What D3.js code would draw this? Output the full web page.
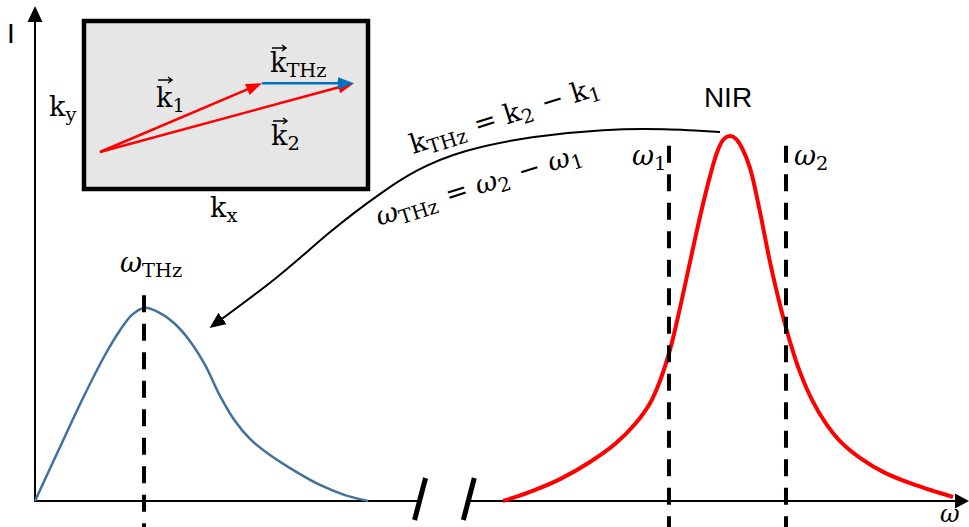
<!DOCTYPE html>
<html>
<head>
<meta charset="utf-8">
<script src="https://cdn.jsdelivr.net/npm/d3@7"></script>
<style>
  body { margin: 0; background: #fff; }
  svg { display: block; }
</style>
</head>
<body>
<svg id="chart" width="969" height="527"></svg>
<script>
// THz emission spectrum: frequency (arb. units) and normalized intensity
const thzOmega = [0, 2.72, 5.43, 7.61, 9.24, 10.54, 11.85, 13.59, 15.22, 16.85, 18.48, 20.11, 21.74, 23.37, 25.54, 28.26, 30.98, 33.7, 36.2];
const thzI     = [0, 0.148, 0.293, 0.400, 0.468, 0.510, 0.529, 0.515, 0.485, 0.438, 0.373, 0.288, 0.219, 0.170, 0.126, 0.082, 0.044, 0.016, 0.0];

// NIR pump spectrum
const nirOmega = [50.87, 53.8, 57.07, 60.33, 63.04, 65.22, 66.85, 67.93, 69.02, 70.11, 71.2, 72.28, 73.37, 74.24, 74.89, 75.54,
                  76.2, 76.85, 77.72, 78.8, 79.89, 80.98, 82.07, 83.15, 84.46, 85.87, 87.5, 89.67, 92.39, 95.65, 99.78];
const nirI     = [0, 0.025, 0.060, 0.107, 0.156, 0.211, 0.268, 0.329, 0.414, 0.529, 0.655, 0.778, 0.890, 0.962, 0.992, 1.0,
                  0.992, 0.967, 0.912, 0.792, 0.655, 0.537, 0.436, 0.353, 0.277, 0.216, 0.164, 0.118, 0.077, 0.044, 0.011];

// Marked frequencies
const markNames = ["THz", "1", "2"];
const markOmega = [11.85, 68.91, 81.63];
const markTop   = [0.564, 0.973, 0.973];

// Frequency-axis break
const breakOmega = [41.8, 47.1];

// Difference-frequency arrow (from the NIR peak down to the THz band)
const arcOmega = [74.46, 61.74, 46.85, 37.83, 31.85, 26.2, 19.24];
const arcI     = [1.011, 1.016, 0.959, 0.847, 0.732, 0.611, 0.479];

// Wave vectors in the inset (kx, ky)
const k1 = [0.638, 0.27];
const k2 = [1.0, 0.27];

const W = 969, H = 527;
const svg = d3.select("#chart");

const x = d3.scaleLinear().domain([0, 100]).range([35, 955]);
const y = d3.scaleLinear().domain([0, 1]).range([501, 136]);

const SERIF = "'DejaVu Serif', 'Liberation Serif', serif";
const SANS = "'Liberation Sans', Arial, sans-serif";
const FS = 27;

// Arrowhead for the curved arrow
const defs = svg.append("defs");
defs.append("marker")
  .attr("id", "headBlack")
  .attr("markerUnits", "userSpaceOnUse")
  .attr("viewBox", "0 0 16 14")
  .attr("markerWidth", 16).attr("markerHeight", 14)
  .attr("refX", 13).attr("refY", 7)
  .attr("orient", "auto")
  .append("path").attr("d", "M0,0 L16,7 L0,14 Z").attr("fill", "#000");

// ---- axes ----
const axes = svg.append("g").attr("stroke", "#000").attr("stroke-width", 2).attr("fill", "none");
axes.append("line").attr("x1", x(0)).attr("x2", x(0)).attr("y1", y(0) + 1).attr("y2", 20);
axes.append("line").attr("x1", x(0)).attr("x2", x(breakOmega[0])).attr("y1", y(0)).attr("y2", y(0));
axes.append("line").attr("x1", x(breakOmega[1])).attr("x2", x(100)).attr("y1", y(0)).attr("y2", y(0));
svg.append("path").attr("fill", "#000")
  .attr("d", `M${x(0)},6 L${x(0) + 7.5},22 L${x(0) - 7.5},22 Z`);
svg.append("path").attr("fill", "#000")
  .attr("d", `M${x(100) + 14},${y(0)} L${x(100)},${y(0) - 7.5} L${x(100)},${y(0) + 7.5} Z`);

// axis break marks
svg.append("g").selectAll("line").data(breakOmega).join("line")
  .attr("x1", d => x(d) - 5).attr("y1", y(0) + 19)
  .attr("x2", d => x(d) + 6).attr("y2", y(0) - 23)
  .attr("stroke", "#000").attr("stroke-width", 5);

// ---- spectra ----
const line = d3.line().x(d => x(d[0])).y(d => y(d[1])).curve(d3.curveCatmullRom.alpha(0.5));

svg.append("path")
  .datum(d3.zip(thzOmega, thzI))
  .attr("d", line)
  .attr("fill", "none").attr("stroke", "#41719c").attr("stroke-width", 2.5);

svg.append("path")
  .datum(d3.zip(nirOmega, nirI))
  .attr("d", line)
  .attr("fill", "none").attr("stroke", "#ff0000").attr("stroke-width", 4);

// dashed frequency markers
svg.append("g").selectAll("line").data(d3.zip(markOmega, markTop)).join("line")
  .attr("x1", d => x(d[0])).attr("x2", d => x(d[0]))
  .attr("y1", d => y(d[1])).attr("y2", H)
  .attr("stroke", "#000").attr("stroke-width", 4)
  .attr("stroke-dasharray", "17,11.5");

// curved arrow
const arcLine = d3.line().x(d => x(d[0])).y(d => y(d[1])).curve(d3.curveNatural);
svg.append("path")
  .datum(d3.zip(arcOmega, arcI))
  .attr("d", arcLine)
  .attr("fill", "none").attr("stroke", "#000").attr("stroke-width", 2)
  .attr("marker-end", "url(#headBlack)");

// ---- text helpers ----
function mathText(parent, px, py, parts, size, anchor) {
  const t = parent.append("text")
    .attr("x", px).attr("y", py)
    .attr("font-family", SERIF).attr("font-size", size)
    .attr("fill", "#000")
    .attr("text-anchor", anchor || "start");
  let shift = 0;
  const sh = Math.round(size * 0.2);
  parts.forEach(p => {
    const s = t.append("tspan").text(p.t);
    if (p.it) s.attr("font-style", "italic");
    if (p.dx) s.attr("dx", p.dx);
    if (p.sub) {
      s.attr("font-size", size * 0.72).attr("dy", sh - shift);
      shift = sh;
    } else if (shift) {
      s.attr("dy", -shift);
      shift = 0;
    }
  });
  return t;
}
function vecArrow(parent, px, py, w) {
  parent.append("path")
    .attr("d", `M${px},${py} h${w} M${px + w - 4},${py - 3} L${px + w},${py} L${px + w - 4},${py + 3}`)
    .attr("fill", "none").attr("stroke", "#000").attr("stroke-width", 1.3);
}

// ---- inset: wave-vector diagram ----
const kx = d3.scaleLinear().domain([0, 1]).range([100, 354]);
const ky = d3.scaleLinear().domain([0, 1]).range([152, -103]);
const inset = svg.append("g");
inset.append("rect").attr("x", 84).attr("y", 21).attr("width", 284).attr("height", 168)
  .attr("fill", "#e6e6e6").attr("stroke", "#000").attr("stroke-width", 4.5);

function vector(from, to, color, w, hl, hw) {
  const x1 = kx(from[0]), y1 = ky(from[1]), x2 = kx(to[0]), y2 = ky(to[1]);
  const L = Math.hypot(x2 - x1, y2 - y1), ux = (x2 - x1) / L, uy = (y2 - y1) / L;
  inset.append("line").attr("x1", x1).attr("y1", y1)
    .attr("x2", x2 - ux * hl * 0.8).attr("y2", y2 - uy * hl * 0.8)
    .attr("stroke", color).attr("stroke-width", w);
  const bx = x2 - ux * hl, by = y2 - uy * hl;
  inset.append("path").attr("fill", color)
    .attr("d", `M${x2},${y2} L${bx - uy * hw / 2},${by + ux * hw / 2} L${bx + uy * hw / 2},${by - ux * hw / 2} Z`);
}
vector([0, 0], k1, "#ff0000", 2.5, 16, 12);
vector([0, 0], k2, "#ff0000", 2.5, 16, 12);
vector(k1, k2, "#0070c0", 2.5, 16, 12);

mathText(inset, 49, 116, [{t: "k"}, {t: "y", sub: true}], FS);
mathText(inset, 210, 217, [{t: "k"}, {t: "x", sub: true}], FS);
mathText(inset, 156, 107, [{t: "k"}, {t: "1", sub: true}], FS);
vecArrow(inset, 158, 80, 14);
mathText(inset, 270, 72, [{t: "k"}, {t: "THz", sub: true}], FS);
vecArrow(inset, 272, 48, 14);
mathText(inset, 271, 145, [{t: "k"}, {t: "2", sub: true}], FS);
vecArrow(inset, 273, 121, 14);

// ---- labels ----
svg.append("text").attr("x", 7).attr("y", 43)
  .attr("font-family", SANS).attr("font-size", 28).text("I");
svg.append("text").attr("x", 728).attr("y", 107).attr("text-anchor", "middle")
  .attr("font-family", SANS).attr("font-size", 28).text("NIR");

mathText(svg, 120, 272, [{t: "ω", it: true}, {t: "THz", sub: true}], FS);
mathText(svg, 632, 165, [{t: "ω", it: true}, {t: "1", sub: true}], FS);
mathText(svg, 794, 165, [{t: "ω", it: true}, {t: "2", sub: true}], FS);
mathText(svg, 940, 522, [{t: "ω", it: true}], 24);

const eq1 = svg.append("g").attr("transform", "translate(413,154) rotate(-17.5)");
mathText(eq1, 0, 0, [
  {t: "k"}, {t: "THz", sub: true}, {t: " = k", dx: 2}, {t: "2", sub: true},
  {t: " − k", dx: 2}, {t: "1", sub: true}
], FS);
const eq2 = svg.append("g").attr("transform", "translate(379,226) rotate(-17.5)");
mathText(eq2, 0, 0, [
  {t: "ω", it: true}, {t: "THz", sub: true}, {t: " = ", dx: 2}, {t: "ω", it: true}, {t: "2", sub: true},
  {t: " − ", dx: 2}, {t: "ω", it: true}, {t: "1", sub: true}
], FS);
</script>
</body>
</html>
